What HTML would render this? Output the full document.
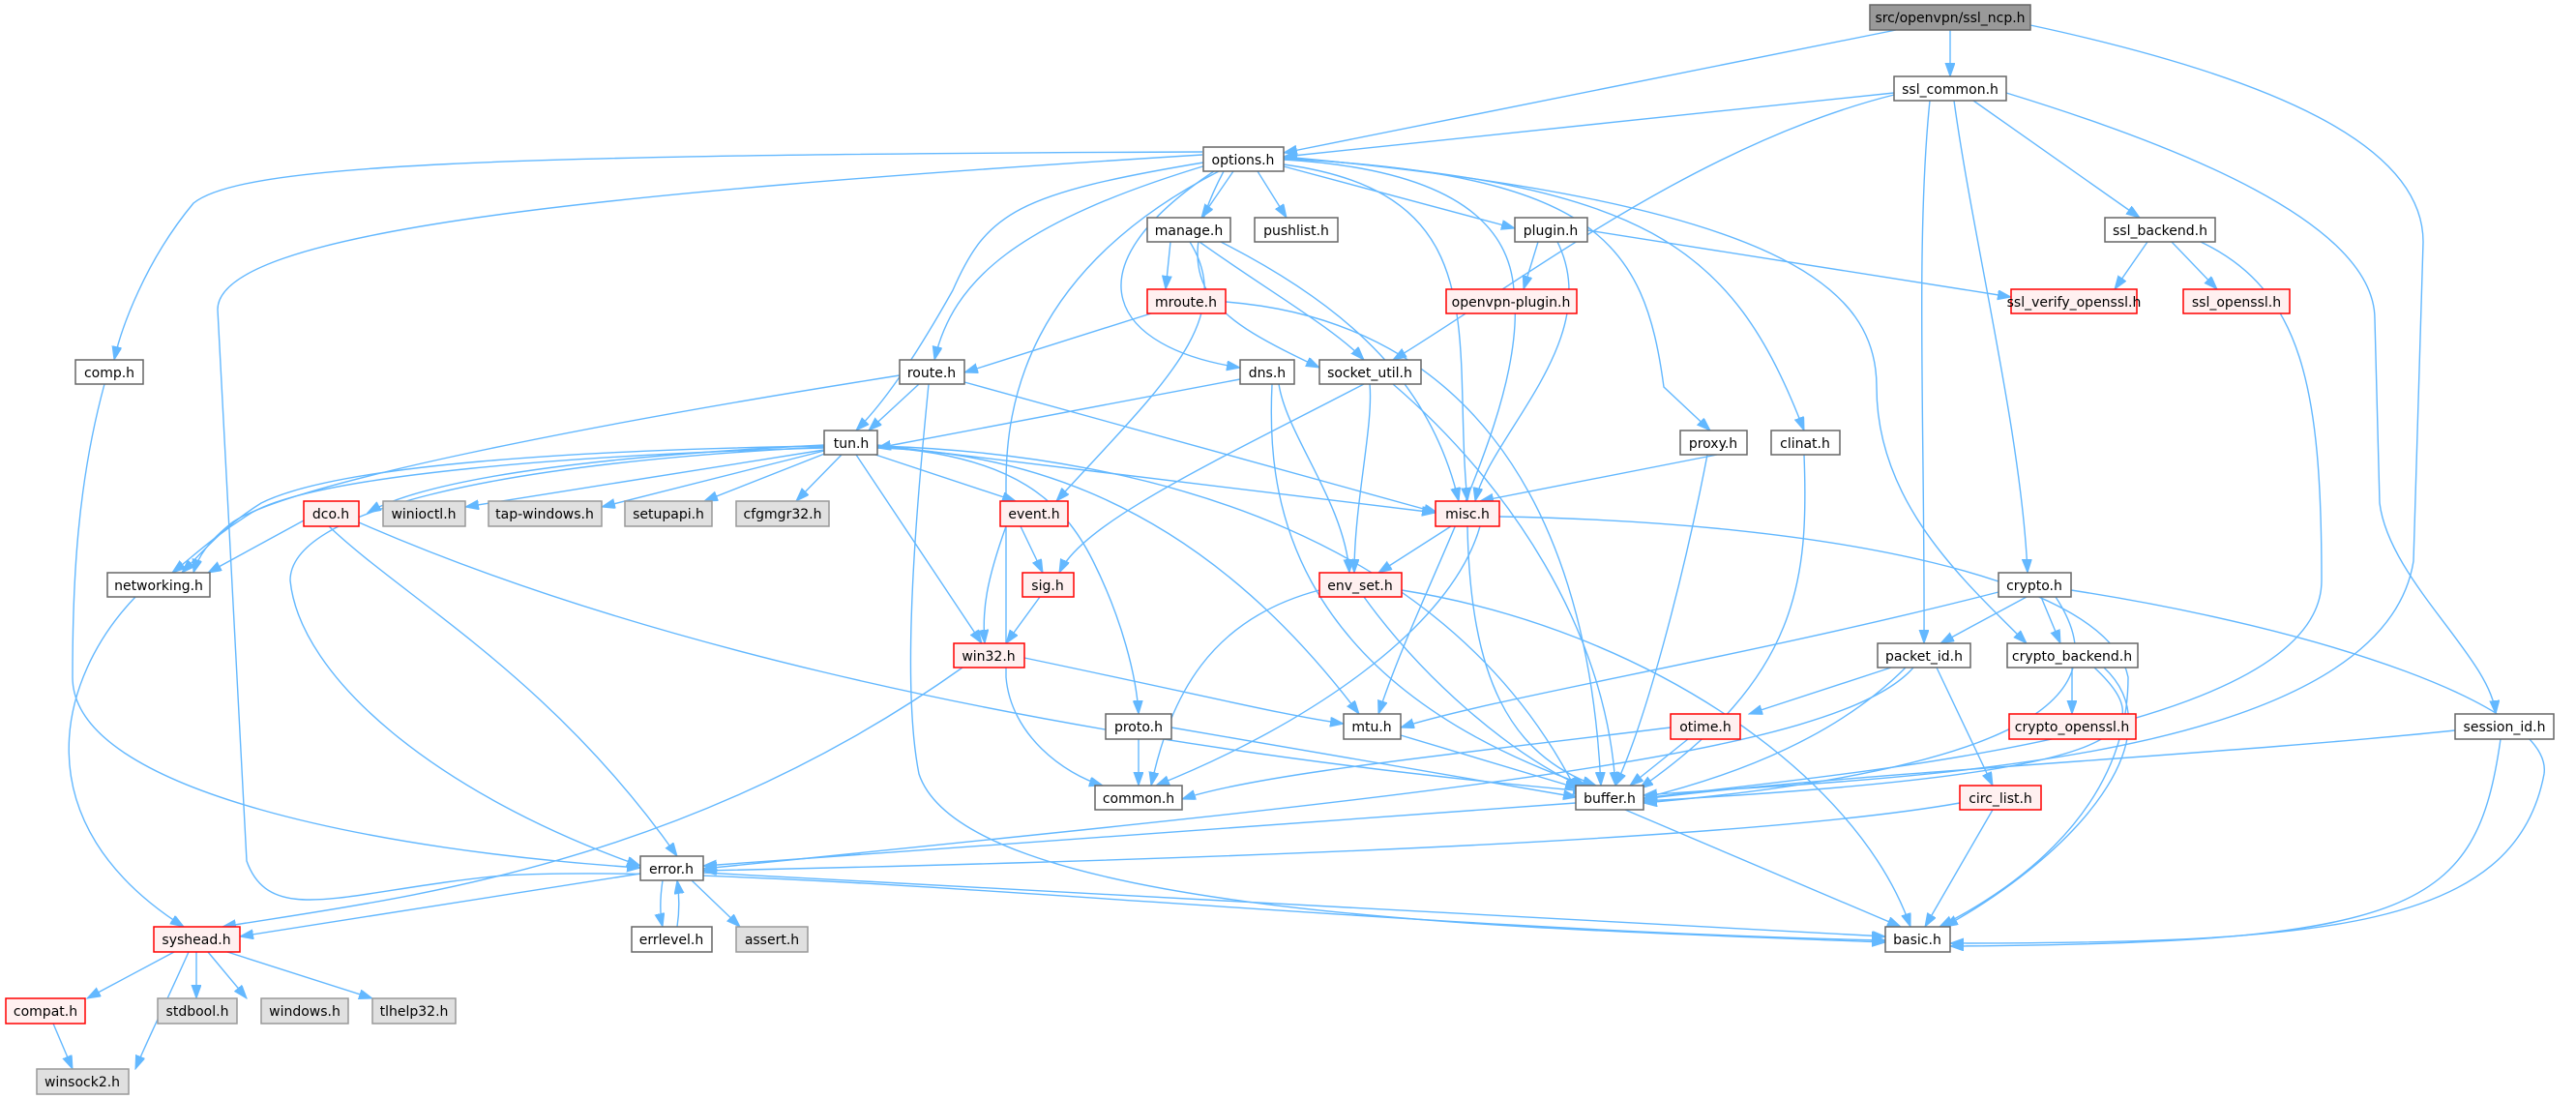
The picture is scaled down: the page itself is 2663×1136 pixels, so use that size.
<!DOCTYPE html>
<html><head><meta charset="utf-8"><style>
html,body{margin:0;padding:0;background:#fff;}
svg{display:block;}
text{font-family:"DejaVu Sans","Liberation Sans",sans-serif;font-size:14px;fill:#000;text-anchor:middle;}
.e{fill:none;stroke:#63B8FF;stroke-width:1.4;marker-end:url(#a);}
.n rect{fill:#fff;stroke:#666;stroke-width:1.5;}
.r rect{fill:#FFF0F0;stroke:#FF0000;stroke-width:1.5;}
.g rect{fill:#E0E0E0;stroke:#999;stroke-width:1.5;}
.root rect{fill:#999;stroke:#666;stroke-width:1.5;}
</style></head><body>
<svg width="2663" height="1136" viewBox="0 0 2663 1136" xmlns="http://www.w3.org/2000/svg">
<defs><marker id="a" markerUnits="userSpaceOnUse" markerWidth="15" markerHeight="11" refX="14" refY="5" orient="auto"><path d="M0,0 L14,5 L0,10 z" fill="#63B8FF" stroke="#63B8FF"/></marker></defs>

<!-- edges -->
<path class="e" d="M1960,31 L1327,158"/>
<path class="e" d="M2016,31 L2016,79"/>
<path class="e" d="M2099,26 C2350,80 2505,150 2505,250 L2495,580 C2460,800 1900,805 1699,822"/>
<path class="e" d="M1958,96 L1327,162"/>
<path class="e" d="M1958,98 C1750,150 1560,300 1440,372"/>
<path class="e" d="M1995,104 C1980,250 1990,450 1989,665"/>
<path class="e" d="M2020,104 C2040,250 2090,450 2096,592"/>
<path class="e" d="M2040,104 L2212,225"/>
<path class="e" d="M2074,96 C2250,150 2455,230 2455,330 L2460,520 C2470,600 2575,680 2580,738"/>
<path class="e" d="M1243,157 C500,160 250,170 200,210 C150,270 125,340 118,372"/>
<path class="e" d="M1243,160 C600,200 225,240 225,320 L255,890 C280,960 360,920 520,905 C800,890 1400,960 1949,972"/>
<path class="e" d="M1250,167 C1050,200 1020,220 985,300 C940,380 910,420 885,445"/>
<path class="e" d="M1250,170 C1050,230 985,290 966,372"/>
<path class="e" d="M1260,177 C1060,280 1040,420 1040,500 L1040,700 C1045,760 1100,800 1140,812"/>
<path class="e" d="M1255,177 C1100,280 1150,360 1282,380"/>
<path class="e" d="M1265,177 C1200,300 1260,330 1364,380"/>
<path class="e" d="M1275,177 L1242,225"/>
<path class="e" d="M1300,177 L1330,225"/>
<path class="e" d="M1327,172 L1566,236"/>
<path class="e" d="M1327,165 C1500,175 1560,230 1565,300 C1580,420 1470,600 1425,738"/>
<path class="e" d="M1327,164 C1650,180 1700,250 1720,400 L1768,445"/>
<path class="e" d="M1327,163 C1700,190 1790,250 1865,445"/>
<path class="e" d="M1327,162 C1850,210 1940,300 1940,400 C1940,520 2030,600 2095,665"/>
<path class="e" d="M1327,170 C1550,200 1500,350 1517,518"/>
<path class="e" d="M1210,250 L1205,299"/>
<path class="e" d="M1240,250 C1310,300 1380,340 1410,372"/>
<path class="e" d="M1230,250 C1280,330 1200,400 1092,518"/>
<path class="e" d="M1262,250 C1400,320 1480,400 1508,518"/>
<path class="e" d="M1190,324 L997,385"/>
<path class="e" d="M1267,312 C1500,330 1640,500 1655,812"/>
<path class="e" d="M1590,250 L1575,299"/>
<path class="e" d="M1610,250 C1660,350 1540,450 1525,518"/>
<path class="e" d="M1641,238 L2079,307"/>
<path class="e" d="M2220,250 L2186,299"/>
<path class="e" d="M2245,250 L2292,299"/>
<path class="e" d="M2275,250 C2380,300 2400,400 2400,600 C2400,760 1900,800 1699,825"/>
<path class="e" d="M950,397 L898,445"/>
<path class="e" d="M930,388 C600,440 300,500 240,540 C215,560 205,575 200,592"/>
<path class="e" d="M997,395 L1486,530"/>
<path class="e" d="M960,397 C950,500 930,700 950,800 C1000,950 1600,960 1949,974"/>
<path class="e" d="M1282,392 L907,463"/>
<path class="e" d="M1315,397 C1310,500 1320,700 1640,812"/>
<path class="e" d="M1322,397 C1330,450 1390,520 1395,592"/>
<path class="e" d="M1410,397 C1250,480 1120,540 1095,592"/>
<path class="e" d="M1416,397 C1420,440 1400,520 1400,592"/>
<path class="e" d="M1440,397 C1560,500 1660,650 1670,812"/>
<path class="e" d="M852,460 C650,470 450,490 380,530"/>
<path class="e" d="M852,461 C600,465 350,480 270,520 C230,545 210,570 188,592"/>
<path class="e" d="M852,463 C600,470 330,490 260,530 C220,555 200,575 178,592"/>
<path class="e" d="M852,465 L481,524"/>
<path class="e" d="M852,466 L622,524"/>
<path class="e" d="M855,468 L728,518"/>
<path class="e" d="M870,470 L823,518"/>
<path class="e" d="M905,470 L1050,518"/>
<path class="e" d="M907,460 L1484,530"/>
<path class="e" d="M885,470 L1015,665"/>
<path class="e" d="M907,462 C1050,470 1100,520 1130,580 C1160,640 1175,700 1177,738"/>
<path class="e" d="M907,463 C1150,470 1300,600 1405,738"/>
<path class="e" d="M907,461 C1200,470 1500,560 1630,818"/>
<path class="e" d="M852,462 C500,480 300,530 300,600 C310,700 450,820 662,895"/>
<path class="e" d="M1055,544 L1078,592"/>
<path class="e" d="M1040,544 C1020,600 1015,630 1018,665"/>
<path class="e" d="M1075,617 L1040,665"/>
<path class="e" d="M995,690 C700,900 400,930 230,958"/>
<path class="e" d="M1059,680 C1250,720 1330,740 1389,748"/>
<path class="e" d="M314,538 L215,592"/>
<path class="e" d="M340,544 C420,620 570,700 700,885"/>
<path class="e" d="M371,540 C600,640 1000,760 1640,818"/>
<path class="e" d="M140,617 C60,700 20,850 190,958"/>
<path class="e" d="M108,397 C80,500 75,600 75,700 C75,820 400,880 662,897"/>
<path class="e" d="M1775,470 L1530,518"/>
<path class="e" d="M1765,470 C1740,600 1700,750 1670,812"/>
<path class="e" d="M1865,470 C1870,600 1860,700 1695,815"/>
<path class="e" d="M1500,544 L1425,592"/>
<path class="e" d="M1530,544 C1500,650 1350,750 1195,812"/>
<path class="e" d="M1517,544 C1520,700 1560,780 1650,812"/>
<path class="e" d="M1550,534 C1900,540 2180,600 2200,700 C2200,850 2060,930 2005,958"/>
<path class="e" d="M1364,610 C1250,640 1210,720 1190,812"/>
<path class="e" d="M1410,617 C1470,700 1560,780 1640,815"/>
<path class="e" d="M1449,610 C1700,650 1920,800 1975,958"/>
<path class="e" d="M2095,617 L2006,665"/>
<path class="e" d="M2110,617 L2130,665"/>
<path class="e" d="M2066,612 C1800,680 1550,720 1448,752"/>
<path class="e" d="M2125,617 C2180,700 2150,790 1699,830"/>
<path class="e" d="M2141,610 C2400,650 2640,730 2630,800 C2600,960 2400,975 2016,975"/>
<path class="e" d="M1955,690 L1808,738"/>
<path class="e" d="M1970,690 C1900,760 1800,800 1699,825"/>
<path class="e" d="M1978,690 C1900,780 1500,820 727,898"/>
<path class="e" d="M2002,690 L2060,812"/>
<path class="e" d="M2142,690 L2142,738"/>
<path class="e" d="M2165,690 C2240,760 2200,800 1699,828"/>
<path class="e" d="M2175,690 C2250,760 2150,880 2010,958"/>
<path class="e" d="M2538,755 C2300,780 1900,800 1699,826"/>
<path class="e" d="M2585,764 C2560,940 2500,975 2016,978"/>
<path class="e" d="M1177,764 L1177,812"/>
<path class="e" d="M1211,752 L1630,824"/>
<path class="e" d="M1448,760 L1632,815"/>
<path class="e" d="M1727,752 C1500,780 1300,800 1222,826"/>
<path class="e" d="M1745,764 L1685,812"/>
<path class="e" d="M1629,830 L727,895"/>
<path class="e" d="M1680,837 L1965,958"/>
<path class="e" d="M2026,830 C1800,870 1200,890 727,900"/>
<path class="e" d="M2060,837 L1990,958"/>
<path class="e" d="M662,903 L248,968"/>
<path class="e" d="M685,910 C682,930 682,945 685,958"/>
<path class="e" d="M700,958 C702,945 703,930 700,910"/>
<path class="e" d="M715,910 L765,958"/>
<path class="e" d="M727,902 L1949,968"/>
<path class="e" d="M180,984 L90,1032"/>
<path class="e" d="M203,984 L203,1032"/>
<path class="e" d="M215,984 L255,1032"/>
<path class="e" d="M235,984 L385,1032"/>
<path class="e" d="M195,984 C170,1040 150,1080 140,1105"/>
<path class="e" d="M55,1058 L75,1105"/>

<!-- nodes -->
<g class="root"><rect x="1933" y="5" width="166" height="26"/><text x="2016" y="23">src/openvpn/ssl_ncp.h</text></g>
<g class="n"><rect x="1958" y="79" width="116" height="25"/><text x="2016" y="97">ssl_common.h</text></g>
<g class="n"><rect x="1244" y="152" width="83" height="25"/><text x="1285" y="170">options.h</text></g>
<g class="n"><rect x="1186" y="225" width="86" height="25"/><text x="1229" y="243">manage.h</text></g>
<g class="n"><rect x="1297" y="225" width="86" height="25"/><text x="1340" y="243">pushlist.h</text></g>
<g class="n"><rect x="1566" y="225" width="75" height="25"/><text x="1603" y="243">plugin.h</text></g>
<g class="n"><rect x="2176" y="225" width="114" height="25"/><text x="2233" y="243">ssl_backend.h</text></g>
<g class="r"><rect x="1186" y="299" width="81" height="25"/><text x="1226" y="317">mroute.h</text></g>
<g class="r"><rect x="1495" y="299" width="135" height="25"/><text x="1562" y="317">openvpn-plugin.h</text></g>
<g class="r"><rect x="2079" y="299" width="130" height="25"/><text x="2144" y="317">ssl_verify_openssl.h</text></g>
<g class="r"><rect x="2257" y="299" width="110" height="25"/><text x="2312" y="317">ssl_openssl.h</text></g>
<g class="n"><rect x="78" y="372" width="70" height="25"/><text x="113" y="390">comp.h</text></g>
<g class="n"><rect x="930" y="372" width="67" height="25"/><text x="963" y="390">route.h</text></g>
<g class="n"><rect x="1282" y="372" width="56" height="25"/><text x="1310" y="390">dns.h</text></g>
<g class="n"><rect x="1364" y="372" width="105" height="25"/><text x="1416" y="390">socket_util.h</text></g>
<g class="n"><rect x="852" y="445" width="55" height="25"/><text x="880" y="463">tun.h</text></g>
<g class="n"><rect x="1737" y="445" width="69" height="25"/><text x="1771" y="463">proxy.h</text></g>
<g class="n"><rect x="1831" y="445" width="71" height="25"/><text x="1866" y="463">clinat.h</text></g>
<g class="r"><rect x="314" y="518" width="57" height="26"/><text x="342" y="536">dco.h</text></g>
<g class="g"><rect x="396" y="518" width="85" height="26"/><text x="438" y="536">winioctl.h</text></g>
<g class="g"><rect x="505" y="518" width="117" height="26"/><text x="563" y="536">tap-windows.h</text></g>
<g class="g"><rect x="646" y="518" width="90" height="26"/><text x="691" y="536">setupapi.h</text></g>
<g class="g"><rect x="761" y="518" width="96" height="26"/><text x="809" y="536">cfgmgr32.h</text></g>
<g class="r"><rect x="1034" y="518" width="70" height="26"/><text x="1069" y="536">event.h</text></g>
<g class="r"><rect x="1484" y="518" width="66" height="26"/><text x="1517" y="536">misc.h</text></g>
<g class="n"><rect x="111" y="592" width="106" height="25"/><text x="164" y="610">networking.h</text></g>
<g class="r"><rect x="1057" y="592" width="53" height="25"/><text x="1083" y="610">sig.h</text></g>
<g class="r"><rect x="1364" y="592" width="85" height="25"/><text x="1406" y="610">env_set.h</text></g>
<g class="n"><rect x="2066" y="592" width="75" height="25"/><text x="2103" y="610">crypto.h</text></g>
<g class="r"><rect x="986" y="665" width="73" height="25"/><text x="1022" y="683">win32.h</text></g>
<g class="n"><rect x="1941" y="665" width="96" height="25"/><text x="1989" y="683">packet_id.h</text></g>
<g class="n"><rect x="2075" y="665" width="135" height="25"/><text x="2142" y="683">crypto_backend.h</text></g>
<g class="n"><rect x="1143" y="738" width="68" height="26"/><text x="1177" y="756">proto.h</text></g>
<g class="n"><rect x="1389" y="738" width="59" height="26"/><text x="1418" y="756">mtu.h</text></g>
<g class="r"><rect x="1727" y="738" width="72" height="26"/><text x="1763" y="756">otime.h</text></g>
<g class="r"><rect x="2077" y="738" width="131" height="26"/><text x="2142" y="756">crypto_openssl.h</text></g>
<g class="n"><rect x="2538" y="738" width="102" height="26"/><text x="2589" y="756">session_id.h</text></g>
<g class="n"><rect x="1132" y="812" width="90" height="25"/><text x="1177" y="830">common.h</text></g>
<g class="n"><rect x="1629" y="812" width="70" height="25"/><text x="1664" y="830">buffer.h</text></g>
<g class="r"><rect x="2026" y="812" width="84" height="25"/><text x="2068" y="830">circ_list.h</text></g>
<g class="n"><rect x="662" y="885" width="65" height="25"/><text x="694" y="903">error.h</text></g>
<g class="r"><rect x="159" y="958" width="89" height="26"/><text x="203" y="976">syshead.h</text></g>
<g class="n"><rect x="653" y="958" width="83" height="26"/><text x="694" y="976">errlevel.h</text></g>
<g class="g"><rect x="761" y="958" width="74" height="26"/><text x="798" y="976">assert.h</text></g>
<g class="n"><rect x="1949" y="958" width="67" height="26"/><text x="1982" y="976">basic.h</text></g>
<g class="r"><rect x="6" y="1032" width="82" height="26"/><text x="47" y="1050">compat.h</text></g>
<g class="g"><rect x="163" y="1032" width="82" height="26"/><text x="204" y="1050">stdbool.h</text></g>
<g class="g"><rect x="270" y="1032" width="90" height="26"/><text x="315" y="1050">windows.h</text></g>
<g class="g"><rect x="385" y="1032" width="86" height="26"/><text x="428" y="1050">tlhelp32.h</text></g>
<g class="g"><rect x="38" y="1105" width="95" height="26"/><text x="85" y="1123">winsock2.h</text></g>
</svg>
</body></html>
